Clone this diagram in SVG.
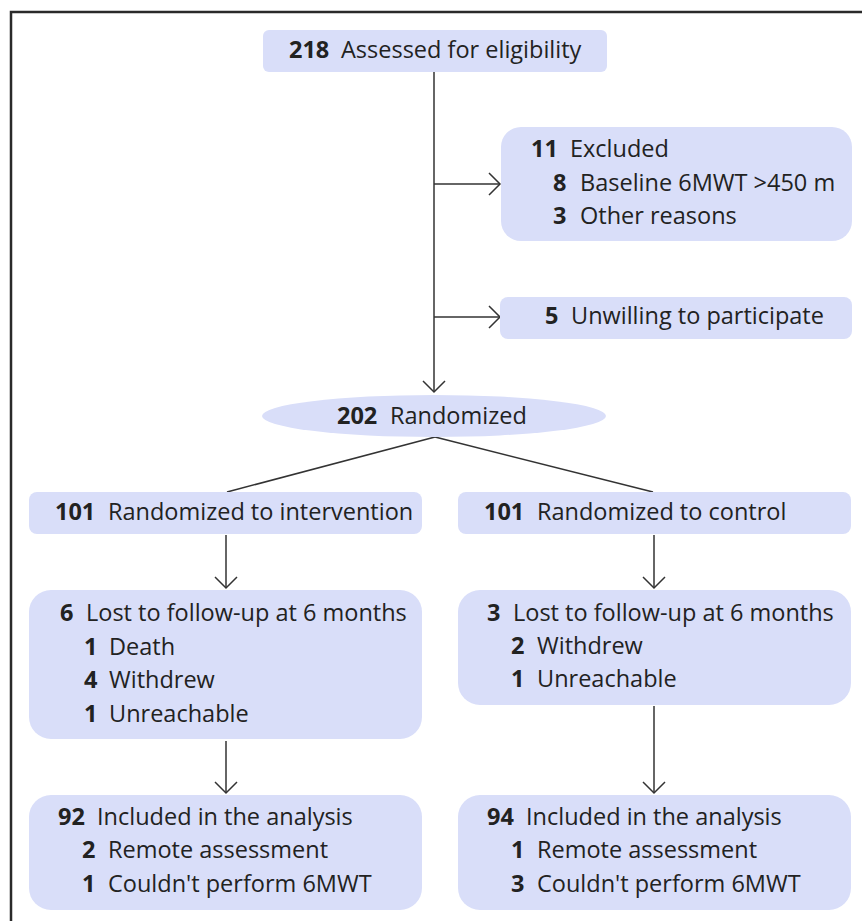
<svg xmlns="http://www.w3.org/2000/svg" width="862" height="921" viewBox="0 0 862 921">
<defs>
<style>
.box{fill:#d9def9;}
.t{font-family:"Open Sans","Noto Sans","Liberation Sans",sans-serif;font-size:23.5px;fill:#222;}
.n{font-weight:700;}
.c{stroke:#333;stroke-width:1.5;fill:none;}
.a{marker-end:url(#ah);}
</style>
<marker id="ah" markerUnits="userSpaceOnUse" markerWidth="24" markerHeight="26" refX="12" refY="12" orient="auto" viewBox="0 0 24 24">
<path d="M1,1 L12,12 L1,23" fill="none" stroke="#333" stroke-width="1.5"/>
</marker>
</defs>
<rect x="0" y="0" width="862" height="921" fill="#fff"/>
<rect x="11" y="12" width="900" height="960" fill="none" stroke="#2a2a2a" stroke-width="2.5"/>

<g id="connectors">
<line class="c a" x1="434" y1="72" x2="434" y2="392"/>
<line class="c a" x1="434" y1="184" x2="500" y2="184"/>
<line class="c a" x1="434" y1="317" x2="500" y2="317"/>
<line class="c" x1="435" y1="437" x2="227" y2="492"/>
<line class="c" x1="435" y1="437" x2="653" y2="492"/>
<line class="c a" x1="226" y1="535" x2="226" y2="588"/>
<line class="c a" x1="654" y1="535" x2="654" y2="588"/>
<line class="c a" x1="226" y1="741" x2="226" y2="793"/>
<line class="c a" x1="654" y1="706" x2="654" y2="793"/>
</g>

<g id="assessed">
<rect class="box" x="263" y="30" width="344" height="42" rx="6"/>
<text class="t" y="58"><tspan class="n" x="289">218</tspan><tspan x="341">Assessed for eligibility</tspan></text>
</g>

<g id="excluded">
<rect class="box" x="501" y="127" width="351" height="114" rx="20"/>
<text class="t" y="157"><tspan class="n" x="531">11</tspan><tspan x="570">Excluded</tspan></text>
<text class="t" y="191"><tspan class="n" x="553">8</tspan><tspan x="580">Baseline 6MWT &gt;450 m</tspan></text>
<text class="t" y="224"><tspan class="n" x="553">3</tspan><tspan x="580">Other reasons</tspan></text>
</g>

<g id="unwilling">
<rect class="box" x="500" y="297" width="352" height="42" rx="8"/>
<text class="t" y="324"><tspan class="n" x="545">5</tspan><tspan x="571">Unwilling to participate</tspan></text>
</g>

<g id="randomized">
<ellipse class="box" cx="434" cy="416" rx="172" ry="21"/>
<text class="t" y="424"><tspan class="n" x="337">202</tspan><tspan x="390">Randomized</tspan></text>
</g>

<g id="intervention">
<rect class="box" x="29" y="492" width="393" height="42" rx="8"/>
<text class="t" y="520"><tspan class="n" x="55">101</tspan><tspan x="108">Randomized to intervention</tspan></text>
</g>

<g id="control">
<rect class="box" x="458" y="492" width="393" height="42" rx="8"/>
<text class="t" y="520"><tspan class="n" x="484">101</tspan><tspan x="537">Randomized to control</tspan></text>
</g>

<g id="lost-intervention">
<rect class="box" x="29" y="590" width="393" height="149" rx="22"/>
<text class="t" y="621"><tspan class="n" x="60">6</tspan><tspan x="86">Lost to follow-up at 6 months</tspan></text>
<text class="t" y="655"><tspan class="n" x="84">1</tspan><tspan x="109">Death</tspan></text>
<text class="t" y="688"><tspan class="n" x="84">4</tspan><tspan x="109">Withdrew</tspan></text>
<text class="t" y="722"><tspan class="n" x="84">1</tspan><tspan x="109">Unreachable</tspan></text>
</g>

<g id="lost-control">
<rect class="box" x="458" y="590" width="393" height="115" rx="22"/>
<text class="t" y="621"><tspan class="n" x="487">3</tspan><tspan x="513">Lost to follow-up at 6 months</tspan></text>
<text class="t" y="654"><tspan class="n" x="511">2</tspan><tspan x="537">Withdrew</tspan></text>
<text class="t" y="687"><tspan class="n" x="511">1</tspan><tspan x="537">Unreachable</tspan></text>
</g>

<g id="analysis-intervention">
<rect class="box" x="29" y="795" width="393" height="115" rx="22"/>
<text class="t" y="825"><tspan class="n" x="58">92</tspan><tspan x="97">Included in the analysis</tspan></text>
<text class="t" y="858"><tspan class="n" x="82">2</tspan><tspan x="108">Remote assessment</tspan></text>
<text class="t" y="892"><tspan class="n" x="82">1</tspan><tspan x="108">Couldn't perform 6MWT</tspan></text>
</g>

<g id="analysis-control">
<rect class="box" x="458" y="795" width="393" height="115" rx="22"/>
<text class="t" y="825"><tspan class="n" x="487">94</tspan><tspan x="526">Included in the analysis</tspan></text>
<text class="t" y="858"><tspan class="n" x="511">1</tspan><tspan x="537">Remote assessment</tspan></text>
<text class="t" y="892"><tspan class="n" x="511">3</tspan><tspan x="537">Couldn't perform 6MWT</tspan></text>
</g>
</svg>
